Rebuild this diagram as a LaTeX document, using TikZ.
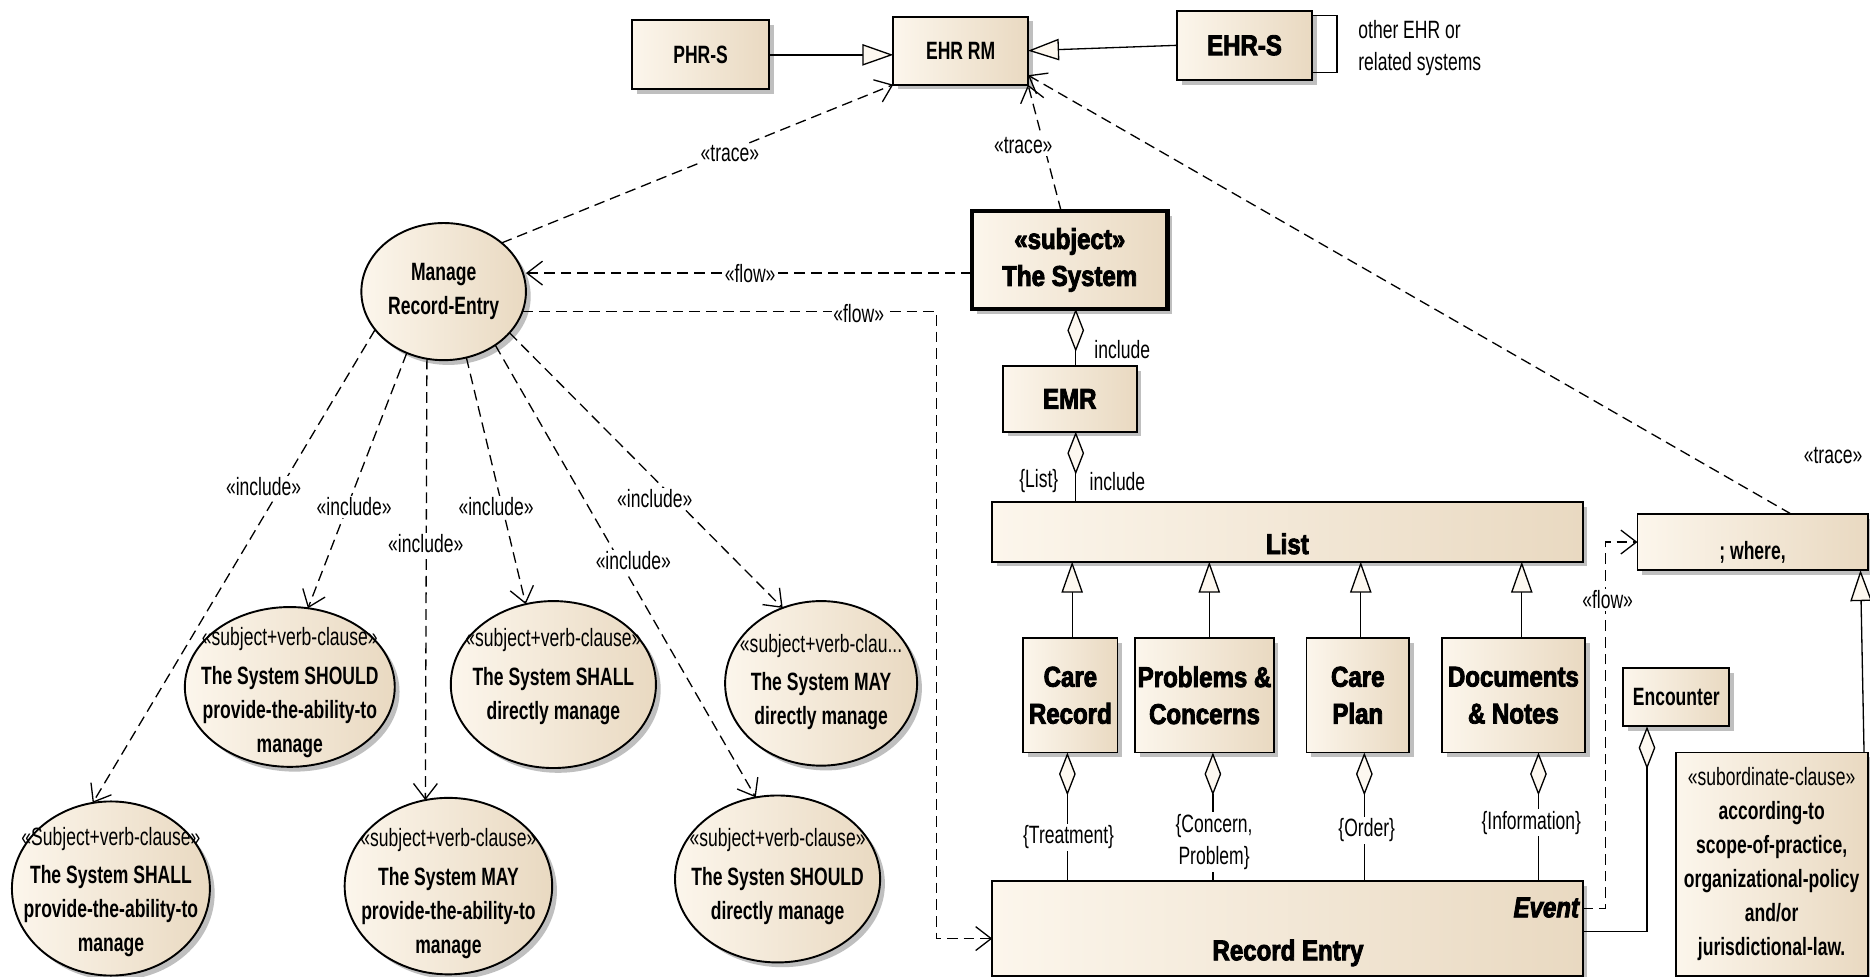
\documentclass[tikz,border=0pt]{standalone}
\usepackage{fontspec}
\setmainfont{Liberation Sans}[FakeStretch=0.7]
\newfontfamily\heavyfam{Liberation Sans}[FakeStretch=0.84,FakeBold=3]
\usetikzlibrary{shapes.geometric,arrows.meta,shadows,calc}
\definecolor{bgL}{RGB}{252,246,236}
\definecolor{bgR}{RGB}{233,217,193}
\definecolor{tri}{RGB}{253,248,240}
\newcommand\lblfont{\fontsize{21}{27}\selectfont}
\newcommand\bfont{\fontsize{21}{28.5}\selectfont\bfseries}
\newcommand\hfont{\heavyfam\fontsize{24}{31}\selectfont\bfseries}
\begin{document}
\begin{tikzpicture}[x=1pt,y=-1pt,
  every node/.style={inner sep=0pt, outer sep=0pt},
  fillshade/.style={left color=bgL, right color=bgR},
  shadowed/.style={drop shadow={shadow xshift=4pt, shadow yshift=-4pt, fill=black!25, opacity=1}},
  box/.style={rectangle, draw=black, line width=1.6pt, fillshade, shadowed, align=center, font=\bfont},
  hbox/.style={box, font=\hfont},
  uc/.style={ellipse, draw=black, line width=1.6pt, fillshade, shadowed},
  txt/.style={align=center, font=\bfont},
  lbl/.style={font=\lblfont, fill=white, inner sep=1.5pt, align=center},
  plainlbl/.style={font=\lblfont, align=center},
  conn/.style={draw=black, line width=1.1pt},
  dep/.style={conn, dash pattern=on 9pt off 5pt, -{Straight Barb[length=13pt,width=20pt]}},
  gen/.style={conn, -{Triangle[length=26pt,width=18pt,fill=tri]}},
  agg/.style={conn, {Diamond[length=36pt,width=14pt,fill=tri]}-},
]
\fill[white] (0,0) rectangle (1568,819);
\useasboundingbox (0,0) rectangle (1568,819);

% top row
\node[box, minimum width=115pt, minimum height=58pt] (phrs) at (587.5,46) {PHR-S};
\node[box, minimum width=113pt, minimum height=57pt] (ehrrm) at (805.5,42.5) {EHR RM};
\node[hbox, minimum width=113pt, minimum height=58pt] (ehrs) at (1043.5,38) {EHR-S};
\node[plainlbl, anchor=west, align=left] (other) at (1139,40.5) {other EHR or\\related systems};

% use case and subject
\node[uc, minimum width=138pt, minimum height=115pt, font=\bfont, align=center] (manage) at (372,244.5) {Manage\\Record-Entry};
\node[hbox, line width=4pt, minimum width=164pt, minimum height=82pt] (system) at (897,218) {«subject»\\The System};
\node[hbox, minimum width=112pt, minimum height=55pt] (emr) at (897,334.5) {EMR};
\node[hbox, minimum width=495pt, minimum height=50pt] (list) at (1079.5,446) {};
\node[txt, font=\hfont] (listt) at (1079.5,456) {List};
\node[box, minimum width=193pt, minimum height=47pt] (where) at (1469.5,454.5) {};
\node[txt] (wheret) at (1469.5,463) {; where,};

% children
\node[hbox, minimum width=79pt, minimum height=96pt] (crec) at (897.5,583) {Care\\Record};
\node[hbox, minimum width=116pt, minimum height=96pt] (probs) at (1010,583) {Problems \&\\Concerns};
\node[hbox, minimum width=86pt, minimum height=96pt] (cplan) at (1138.5,583) {Care\\Plan};
\node[hbox, minimum width=120pt, minimum height=96pt] (docs) at (1269,583) {Documents\\\& Notes};

% record entry
\node[box, minimum width=495pt, minimum height=79pt] (recentry) at (1079.5,778.5) {};
\node[font=\hfont\itshape, anchor=east] (event) at (1324,761) {Event};
\node[font=\hfont] (rect) at (1080,799) {Record Entry};

\node[box, minimum width=89pt, minimum height=49pt] (enc) at (1405.5,584.5) {Encounter};
\node[box, minimum width=161pt, minimum height=187pt] (subord) at (1485.5,724.5) {\mdseries«subordinate-clause»\\\bfseries according-to\\scope-of-practice,\\organizational-policy\\and/or\\jurisdictional-law.};

% clause use cases
\node[uc, minimum width=176pt, minimum height=134pt] (e1) at (243,576) {};
\node[txt] (e1t) at (243,581) {\mdseries«subject+verb-clause»\\[4pt]\bfseries The System SHOULD\\provide-the-ability-to\\manage};
\node[uc, minimum width=172pt, minimum height=140pt] (e2) at (464,574) {};
\node[txt] (e2t) at (464,567) {\mdseries«subject+verb-clause»\\[4pt]\bfseries The System SHALL\\directly manage};
\node[uc, minimum width=161pt, minimum height=138pt] (e3) at (688.5,573) {};
\node[txt] (e3t) at (688.5,572) {\mdseries«subject+verb-clau...\\[4pt]\bfseries The System MAY\\directly manage};
\node[uc, minimum width=166pt, minimum height=146pt] (e4) at (93,745) {};
\node[txt] (e4t) at (93,748) {\mdseries«Subject+verb-clause»\\[4pt]\bfseries The System SHALL\\provide-the-ability-to\\manage};
\node[uc, minimum width=174pt, minimum height=148pt] (e5) at (376,743) {};
\node[txt] (e5t) at (376,749) {\mdseries«subject+verb-clause»\\[4pt]\bfseries The System MAY\\provide-the-ability-to\\manage};
\node[uc, minimum width=172pt, minimum height=140pt] (e6) at (652,737) {};
\node[txt] (e6t) at (652,735) {\mdseries«subject+verb-clause»\\[4pt]\bfseries The Systen SHOULD\\directly manage};

% generalizations
\draw[gen] (phrs.east) -- (phrs.east -| ehrrm.west);
\draw[gen] (ehrs.west) -- (ehrrm.east);
\draw[conn] ($(ehrs.north east)+(0,4)$) -| ($(ehrs.south east)+(21,-6)$) -- ($(ehrs.south east)+(0,-6)$);
\draw[gen] ([xshift=1.5pt]crec.north) -- ([xshift=1.5pt]crec.north |- list.south);
\draw[gen] ([xshift=4pt]probs.north) -- ([xshift=4pt]probs.north |- list.south);
\draw[gen] ([xshift=2.5pt]cplan.north) -- ([xshift=2.5pt]cplan.north |- list.south);
\draw[gen] ([xshift=7pt]docs.north) -- ([xshift=7pt]docs.north |- list.south);
\draw[gen] ([xshift=-3pt]subord.north east) -- ([xshift=-6pt]where.south east);

% traces
\draw[dep] (manage.40) -- (ehrrm.south west);
\draw[dep] (system.100) -- (ehrrm.south east);
\draw[dep] (where.36) -- (ehrrm.-20);

% flows
\coordinate (sf) at ($(system.west)+(0,11)$);
\draw[dep] (sf) -- (sf -| manage.east);
\draw[dep] (manage.-14) -| ($(recentry.west)+(-47,8.5)$) -- ($(recentry.west)+(0,8.5)$);
\draw[dep] ($(recentry.north east)+(0,23)$) -- ++(19,0) |- (where.west);

% aggregations
\draw[agg] ([xshift=5pt]system.south) -- ([xshift=5pt]emr.north);
\draw[agg] ([xshift=5pt]emr.south) -- ([xshift=5pt]emr.south |- list.north);
\draw[agg] ([xshift=-2.5pt]crec.south) -- ([xshift=-2.5pt]crec.south |- recentry.north);
\draw[agg] ([xshift=7pt]probs.south) -- ([xshift=7pt]probs.south |- recentry.north);
\draw[agg] ([xshift=5.5pt]cplan.south) -- ([xshift=5.5pt]cplan.south |- recentry.north);
\draw[agg] ([xshift=21pt]docs.south) -- ([xshift=21pt]docs.south |- recentry.north);
\draw[agg] ([xshift=-24.5pt]enc.south) |- ($(recentry.north east)+(0,42)$);

% includes
\draw[dep] (manage.209) -- (e4.102);
\draw[dep] (manage.239) -- (e1.77);
\draw[dep] (manage.256) -- (e5.105);
\draw[dep] (manage.289) -- (e2.109);
\draw[dep] (manage.314) -- (e6.105);
\draw[dep] (manage.328) -- (e3.117);

% labels
\node[lbl] (tr1) at (612,129) {«trace»};
\node[lbl] (tr2) at (858,122) {«trace»};
\node[plainlbl] (tr3) at (1537,382) {«trace»};
\node[lbl] (fl1) at (629,229) {«flow»};
\node[lbl] (fl2) at (720,263) {«flow»};
\node[lbl] (fl3) at (1348,503) {«flow»};
\node[plainlbl] (inc1) at (941,293) {include};
\node[plainlbl] (lst) at (871,403) {\{List\}};
\node[plainlbl] (inc2) at (937,404) {include};
\node[lbl] (tre) at (896,702) {\{Treatment\}};
\node[lbl] (conc) at (1018,706) {\{Concern,\\Problem\}};
\node[lbl] (ord) at (1146,696) {\{Order\}};
\node[lbl] (inf) at (1284,690) {\{Information\}};
\node[lbl] (i4) at (221,408) {«include»};
\node[lbl] (i1) at (297,425) {«include»};
\node[lbl] (i5) at (357,456) {«include»};
\node[lbl] (i2) at (416,425) {«include»};
\node[lbl] (i6) at (531,470) {«include»};
\node[lbl] (i3) at (549,418) {«include»};
\end{tikzpicture}
\end{document}
